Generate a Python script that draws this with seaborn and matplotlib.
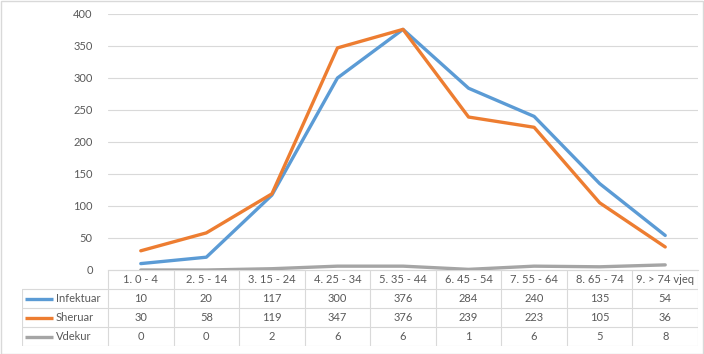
import numpy as np
import pandas as pd
import matplotlib
matplotlib.use("Agg")
import matplotlib.pyplot as plt
from matplotlib.patches import Rectangle
import seaborn as sns

# Datos
categorias = ["1. 0 - 4", "2. 5 - 14", "3. 15 - 24", "4. 25 - 34", "5. 35 - 44",
              "6. 45 - 54", "7. 55 - 64", "8. 65 - 74", "9. > 74 vjeq"]
infektuar = [10, 20, 117, 300, 376, 284, 240, 135, 54]
sheruar = [30, 58, 119, 347, 376, 239, 223, 105, 36]
vdekur = [0, 0, 2, 6, 6, 1, 6, 5, 8]
series = ["Infektuar", "Sheruar", "Vdekur"]
colores = ["#5b9bd5", "#ed7d31", "#a5a5a5"]
yticks = [0, 50, 100, 150, 200, 250, 300, 350, 400]

sns.set_theme(style="white")
plt.rcParams["font.family"] = ["Lato", "DejaVu Sans"]

df = pd.DataFrame({
    "x": list(range(len(categorias))) * 3,
    "valor": infektuar + sheruar + vdekur,
    "serie": [s for s in series for _ in categorias],
})

W, H = 704, 354
fig = plt.figure(figsize=(W / 100, H / 100), dpi=100)
fig.patch.set_facecolor("white")
fig.add_artist(Rectangle((0.5 / W, 0.5 / H), 1 - 1.5 / W, 1 - 1.5 / H,
                         transform=fig.transFigure, fill=False,
                         edgecolor="#d9d9d9", linewidth=1))

# Area del grafico
x0, x1, ytop, ybot = 108, 698, 14, 270
ax = fig.add_axes([x0 / W, 1 - ybot / H, (x1 - x0) / W, (ybot - ytop) / H])
sns.lineplot(data=df, x="x", y="valor", hue="serie", palette=colores,
             hue_order=series, linewidth=2.4, legend=False, ax=ax, zorder=3)
ax.set_xlim(-0.5, len(categorias) - 0.5)
ax.set_ylim(0, 400)
ax.set_yticks(yticks)
ax.set_yticklabels([str(t) for t in yticks], fontsize=8, color="#595959")
ax.set_xticks([])
ax.set_xlabel("")
ax.set_ylabel("")
ax.tick_params(axis="y", length=0, pad=11)
ax.grid(axis="y", color="#d9d9d9", linewidth=0.8)
ax.set_axisbelow(True)
for s in ["top", "right", "left"]:
    ax.spines[s].set_visible(False)
ax.spines["bottom"].set_color("#d9d9d9")
ax.spines["bottom"].set_linewidth(0.8)

# Tabla de datos
tx0, ty1 = 22, 346
label_w = (x0 - tx0) / ((x1 - x0) / len(categorias))
tax = fig.add_axes([tx0 / W, 1 - ty1 / H, (x1 - tx0) / W, (ty1 - ybot) / H])
tax.set_xlim(-0.5 - label_w, len(categorias) - 0.5)
tax.set_ylim(4, 0)
tax.axis("off")
lc = "#d9d9d9"
left = -0.5 - label_w
right = len(categorias) - 0.5
# lineas horizontales
tax.plot([-0.5, right], [0, 0], color=lc, lw=0.8)
for r in [1, 2, 3, 4]:
    tax.plot([left, right], [r, r], color=lc, lw=0.8)
# lineas verticales
for c in range(len(categorias) + 1):
    tax.plot([c - 0.5, c - 0.5], [0, 4], color=lc, lw=0.8)
tax.plot([left, left], [1, 4], color=lc, lw=0.8)

for i, cat in enumerate(categorias):
    tax.text(i, 0.5, cat, ha="center", va="center", fontsize=8, color="#595959")
valores = [infektuar, sheruar, vdekur]
for r, (nombre, vals, col) in enumerate(zip(series, valores, colores), start=1):
    tax.plot([left + 0.05, left + 0.48], [r + 0.5, r + 0.5], color=col, lw=2.4,
             solid_capstyle="butt")
    tax.text(left + 0.52, r + 0.5, nombre, ha="left", va="center", fontsize=8,
             color="#595959")
    for i, v in enumerate(vals):
        tax.text(i, r + 0.5, str(v), ha="center", va="center", fontsize=8,
                 color="#595959")

fig.savefig("out.png", dpi=100)
